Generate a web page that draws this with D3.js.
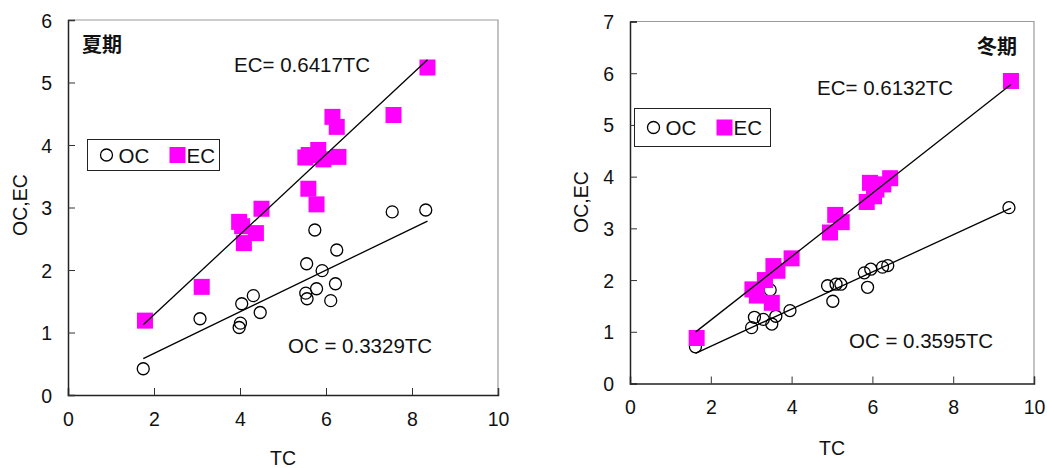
<!DOCTYPE html>
<html>
<head>
<meta charset="utf-8">
<script src="https://cdn.jsdelivr.net/npm/d3@7"></script>
<style>
  body { margin: 0; background: #fff; }
  svg { display: block; }
  text { font-family: "Liberation Sans", Arial, sans-serif; fill: #111; }
  .jp { font-family: "Noto Sans CJK JP", sans-serif; font-weight: 700; }
</style>
</head>
<body>
<svg id="chart" width="1047" height="468"></svg>
<script>
// Summer (夏期) samples: total carbon vs organic / elemental carbon
const summerOC_TC = [1.75, 3.07, 3.98, 4.01, 4.04, 4.31, 4.47, 5.55, 5.53, 5.56, 5.78, 5.74, 5.91, 6.25, 6.22, 6.11, 7.54, 8.32];
const summerOC    = [0.42, 1.22, 1.08, 1.15, 1.46, 1.59, 1.32, 2.10, 1.63, 1.54, 1.70, 2.64, 1.99, 2.32, 1.78, 1.51, 2.93, 2.96];
const summerEC_TC = [1.79, 3.11, 3.98, 4.05, 4.09, 4.37, 4.50, 5.59, 5.78, 5.52, 5.60, 5.82, 5.94, 6.29, 6.15, 6.25, 7.57, 8.36];
const summerEC    = [1.19, 1.73, 2.77, 2.70, 2.43, 2.59, 2.98, 3.30, 3.05, 3.80, 3.84, 3.92, 3.77, 3.81, 4.45, 4.29, 4.48, 5.24];

// Winter (冬期) samples
const winterOC_TC = [1.62, 3.01, 3.08, 3.30, 3.51, 3.61, 3.96, 3.47, 4.89, 5.10, 5.22, 5.02, 5.80, 5.96, 5.88, 6.25, 6.38, 9.38];
const winterOC    = [0.71, 1.08, 1.28, 1.24, 1.15, 1.30, 1.41, 1.81, 1.89, 1.92, 1.92, 1.59, 2.14, 2.21, 1.86, 2.25, 2.28, 3.40];
const winterEC_TC = [1.65, 3.03, 3.14, 3.34, 3.51, 3.55, 3.65, 4.00, 4.95, 5.08, 5.24, 5.86, 5.94, 6.04, 6.10, 6.27, 6.44, 9.43];
const winterEC    = [0.88, 1.82, 1.70, 2.00, 1.56, 2.27, 2.18, 2.42, 2.92, 3.26, 3.12, 3.51, 3.88, 3.62, 3.75, 3.85, 3.97, 5.85];

// Regression slopes (lines through the origin)
const slopes = { summerOC: 0.3329, summerEC: 0.6417, winterOC: 0.3595, winterEC: 0.6132 };

const xTicks = [0, 2, 4, 6, 8, 10];
const summerYTicks = [0, 1, 2, 3, 4, 5, 6];
const winterYTicks = [0, 1, 2, 3, 4, 5, 6, 7];

const svg = d3.select("#chart");

function panel(cfg) {
  const x = d3.scaleLinear().domain([0, 10]).range([cfg.x0, cfg.x1]);
  const y = d3.scaleLinear().domain([0, cfg.yMax]).range([cfg.y0, cfg.y1]);
  const g = svg.append("g");

  // plot frame (top / right in grey)
  g.append("path")
    .attr("d", `M${cfg.x0},${cfg.y1}H${cfg.x1}V${cfg.y0}`)
    .attr("fill", "none").attr("stroke", "#9a9a9a").attr("stroke-width", 1.2);

  // axes with inward ticks
  const xAxis = d3.axisBottom(x).tickValues(xTicks).tickSize(-7).tickPadding(17).tickFormat(d3.format("d"));
  const yAxis = d3.axisLeft(y).tickValues(cfg.yTicks).tickSize(-7).tickPadding(16).tickFormat(d3.format("d"));
  const gx = g.append("g").attr("transform", `translate(0,${cfg.y0})`).call(xAxis);
  const gy = g.append("g").attr("transform", `translate(${cfg.x0},0)`).call(yAxis);
  [gx, gy].forEach(a => {
    a.select(".domain").attr("stroke", "#222").attr("stroke-width", 1.5);
    a.selectAll(".tick line").attr("stroke", "#333").attr("stroke-width", 1);
    a.selectAll(".tick text").style("font-size", "19.5px").attr("fill", "#111");
  });
  gy.selectAll(".tick text").attr("dy", "0.36em");

  // axis titles
  g.append("text").attr("x", (cfg.x0 + cfg.x1) / 2).attr("y", cfg.xTitleY)
    .attr("text-anchor", "middle").style("font-size", "19.5px").text("TC");
  g.append("text").attr("transform", `translate(${cfg.yTitleX},${cfg.yTitleY}) rotate(-90)`)
    .attr("text-anchor", "middle").style("font-size", "19.5px").text("OC,EC");

  // OC circles
  g.append("g").selectAll("circle").data(d3.zip(cfg.ocTC, cfg.oc)).join("circle")
    .attr("cx", d => x(d[0])).attr("cy", d => y(d[1])).attr("r", 6)
    .attr("fill", "none").attr("stroke", "#000").attr("stroke-width", 1.3);

  // EC squares
  const s = 16;
  g.append("g").selectAll("rect").data(d3.zip(cfg.ecTC, cfg.ec)).join("rect")
    .attr("x", d => x(d[0]) - s / 2).attr("y", d => y(d[1]) - s / 2)
    .attr("width", s).attr("height", s).attr("fill", "#ff00ff");

  // regression lines over the observed TC range
  const line = d3.line().x(d => x(d[0])).y(d => y(d[1]));
  const tcExt = d3.extent(cfg.ocTC.concat(cfg.ecTC));
  [cfg.ocSlope, cfg.ecSlope].forEach(k => {
    g.append("path").datum(tcExt.map(t => [t, k * t])).attr("d", line)
      .attr("fill", "none").attr("stroke", "#000").attr("stroke-width", 1.3);
  });

  // equation labels
  g.append("text").attr("x", cfg.ecLabel[0]).attr("y", cfg.ecLabel[1])
    .style("font-size", "20.5px").text(`EC= ${cfg.ecSlope.toFixed(4)}TC`);
  g.append("text").attr("x", cfg.ocLabel[0]).attr("y", cfg.ocLabel[1])
    .style("font-size", "20.5px").text(`OC = ${cfg.ocSlope.toFixed(4)}TC`);

  // season title
  g.append("text").attr("class", "jp").attr("x", cfg.title[0]).attr("y", cfg.title[1])
    .style("font-size", "20px").text(cfg.name);

  // legend
  const L = cfg.legend;
  g.append("rect").attr("x", L.x).attr("y", L.y).attr("width", L.w).attr("height", L.h)
    .attr("fill", "#fff").attr("stroke", "#222").attr("stroke-width", 1);
  const cy = L.y + L.h / 2;
  g.append("circle").attr("cx", L.x + 19).attr("cy", cy).attr("r", 6)
    .attr("fill", "none").attr("stroke", "#000").attr("stroke-width", 1.3);
  g.append("text").attr("x", L.x + 31).attr("y", cy + 7.5).style("font-size", "20.5px").text("OC");
  g.append("rect").attr("x", L.x + 82).attr("y", cy - 8).attr("width", 16).attr("height", 16).attr("fill", "#ff00ff");
  g.append("text").attr("x", L.x + 99).attr("y", cy + 7.5).style("font-size", "20.5px").text("EC");
}

panel({
  name: "夏期", x0: 68, x1: 498, y0: 395, y1: 20, yMax: 6, yTicks: summerYTicks,
  ocTC: summerOC_TC, oc: summerOC, ecTC: summerEC_TC, ec: summerEC,
  ocSlope: slopes.summerOC, ecSlope: slopes.summerEC,
  xTitleY: 465, yTitleX: 27, yTitleY: 205,
  ecLabel: [234, 72], ocLabel: [288, 353], title: [82, 52],
  legend: { x: 87.5, y: 139.5, w: 132, h: 31 }
});

panel({
  name: "冬期", x0: 630, x1: 1034, y0: 383.5, y1: 21.5, yMax: 7, yTicks: winterYTicks,
  ocTC: winterOC_TC, oc: winterOC, ecTC: winterEC_TC, ec: winterEC,
  ocSlope: slopes.winterOC, ecSlope: slopes.winterEC,
  xTitleY: 455, yTitleX: 588, yTitleY: 202,
  ecLabel: [817, 95], ocLabel: [849, 348], title: [977, 54],
  legend: { x: 634.5, y: 108.5, w: 136, h: 38 }
});
</script>
</body>
</html>
